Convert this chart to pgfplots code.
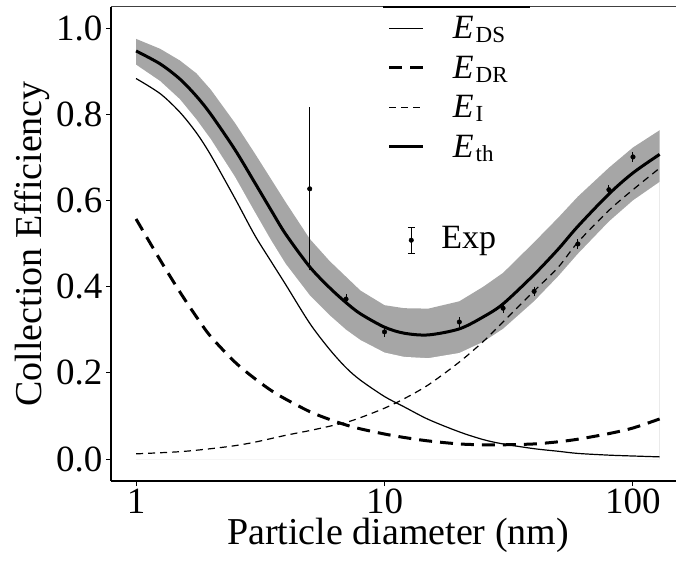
\documentclass[border=0pt]{standalone}
\usepackage{fontspec}
\setmainfont{Liberation Serif}
\usepackage{pgfplots}
\pgfplotsset{compat=1.18}
\usepackage{pgfplotstable}

\definecolor{bandgray}{RGB}{166,166,166}

% E_th with its uncertainty band
\pgfplotstableread{
d     th     up     lo
1.0   0.947  0.975  0.915
1.25  0.917  0.952  0.877
1.5   0.882  0.925  0.835
1.75  0.842  0.895  0.788
2.0   0.800  0.857  0.742
2.5   0.718  0.780  0.655
3.0   0.642  0.710  0.574
3.5   0.577  0.649  0.507
4.0   0.522  0.596  0.453
5.0   0.446  0.511  0.380
6.0   0.398  0.460  0.334
7.0   0.363  0.423  0.300
8.0   0.337  0.391  0.276
10.0  0.306  0.357  0.247
12.0  0.292  0.350  0.237
15.0  0.288  0.349  0.234
20.0  0.302  0.366  0.246
25.0  0.330  0.400  0.272
30.0  0.360  0.432  0.302
40.0  0.428  0.503  0.366
50.0  0.487  0.560  0.424
60.0  0.540  0.609  0.476
80.0  0.615  0.676  0.551
100.0 0.664  0.723  0.600
128.0 0.707  0.763  0.643
}\th

\pgfplotstableread{
d     v
1.0   0.883
1.25  0.848
1.5   0.805
1.75  0.757
2.0   0.705
2.5   0.605
3.0   0.520
3.5   0.458
4.0   0.405
5.0   0.315
6.0   0.255
7.0   0.212
8.0   0.183
10.0  0.145
12.0  0.121
15.0  0.092
20.0  0.063
25.0  0.045
30.0  0.035
40.0  0.024
50.0  0.018
60.0  0.013
80.0  0.009
100.0 0.007
128.0 0.005
}\eds

\pgfplotstableread{
d     v
1.0   0.557
1.25  0.462
1.5   0.388
1.75  0.330
2.0   0.284
2.5   0.225
3.0   0.187
3.5   0.159
4.0   0.139
5.0   0.110
6.0   0.092
7.0   0.079
8.0   0.070
10.0  0.058
12.0  0.050
15.0  0.042
20.0  0.035
25.0  0.033
30.0  0.033
40.0  0.035
50.0  0.040
60.0  0.046
80.0  0.059
100.0 0.072
128.0 0.093
}\edr

\pgfplotstableread{
d     v
1.0   0.012
1.5   0.017
2.0   0.024
2.5   0.031
3.0   0.039
4.0   0.055
5.0   0.066
6.0   0.076
7.0   0.085
8.0   0.096
10.0  0.118
12.0  0.140
15.0  0.172
20.0  0.225
25.0  0.273
30.0  0.318
40.0  0.390
50.0  0.445
60.0  0.503
80.0  0.577
100.0 0.625
128.0 0.675
}\ei

\pgfplotstableread{
d    v      e
5    0.627  0.181
7    0.371  0.003
10   0.295  0.003
20   0.318  0.003
30   0.350  0.003
40   0.389  0.003
60   0.499  0.003
80   0.625  0.003
100  0.701  0.003
}\expdata

\begin{document}
\begin{tikzpicture}
\begin{axis}[
  scale only axis, width=565pt, height=474pt,
  xmode=log, xmin=0.793, xmax=149,
  ymin=-0.051, ymax=1.049,
  axis x line*=bottom, axis y line*=left,
  axis line style={line width=1.8pt},
  tick align=outside, tick style={line width=1pt, black},
  major tick length=5pt,
  xtick={1,10,100}, xticklabels={1,10,100},
  xminorticks=false,
  ytick={0,0.2,0.4,0.6,0.8,1.0},
  yticklabel style={/pgf/number format/.cd, fixed, fixed zerofill, precision=1, assume math mode=true},
  ticklabel style={font=\fontsize{37}{44}\selectfont},
  xticklabel style={text depth=0pt, inner sep=3pt},
  label style={font=\fontsize{38}{44}\selectfont},
  xlabel style={at={(rel axis cs:0.508,0)}, anchor=base, yshift=-63pt,
    text height=22pt, inner sep=0pt},
  xlabel={Particle diameter (nm)},
  ylabel={Collection Efficiency},
  legend style={at={(rel axis cs:0.481,1)}, anchor=north west, draw=none, fill=none,
    inner xsep=5pt, inner ysep=1.5pt, row sep=0pt,
    nodes={inner sep=0pt, text height=30pt, text depth=9.5pt},
    font=\fontsize{34}{40}\selectfont},
  legend cell align=left,
  /tikz/every odd column/.append style={column sep=28pt},
  legend image code/.code={\draw[#1] (0pt,0pt) -- (34pt,0pt);},
]
\coordinate (O) at (rel axis cs:0,0);
\addplot[fill=bandgray, draw=none, forget plot] table[x=d, y=up] {\th}
  \closedcycle;
\addplot[fill=white, draw=none, forget plot] table[x=d, y=lo] {\th}
  \closedcycle;
\addplot[black, line width=1.2pt, smooth] table[x=d, y=v] {\eds};
\addlegendentry{\textit{E}\kern2pt\raisebox{-4pt}{\fontsize{23}{23}\selectfont DS}}
\addplot[black, line width=3pt, dash pattern=on 13pt off 8pt, smooth] table[x=d, y=v] {\edr};
\addlegendentry{\textit{E}\kern2pt\raisebox{-4pt}{\fontsize{23}{23}\selectfont DR}}
\addplot[black, line width=1.2pt, dash pattern=on 7pt off 5pt, smooth] table[x=d, y=v] {\ei};
\addlegendentry{\textit{E}\kern2pt\raisebox{-4pt}{\fontsize{23}{23}\selectfont I}}
\addplot[black, line width=3pt, smooth] table[x=d, y=th] {\th};
\addlegendentry{\textit{E}\kern2pt\raisebox{-4pt}{\fontsize{23}{23}\selectfont th}}
\draw[black!75, line width=1pt] (rel axis cs:0,1) -- (rel axis cs:1,1);
\draw[black, line width=1.8pt] (rel axis cs:0.481,1) -- (rel axis cs:0.742,1);
\end{axis}
\begin{axis}[
  scale only axis, width=565pt, height=474pt,
  xmode=log, xmin=0.793, xmax=149,
  ymin=-0.051, ymax=1.049,
  hide axis,
  legend style={at={(rel axis cs:0.524,0.508)}, anchor=west, draw=none, fill=none,
    inner sep=0pt,
    nodes={inner sep=0pt, text height=24pt, text depth=7pt},
    font=\fontsize{34}{40}\selectfont},
  /tikz/every odd column/.append style={column sep=26pt},
  legend image code/.code={
    \draw[line width=1pt] (0pt,-13pt) -- (0pt,13pt);
    \draw[line width=1pt] (-3.5pt,13pt) -- (3.5pt,13pt);
    \draw[line width=1pt] (-3.5pt,-13pt) -- (3.5pt,-13pt);
    \fill (0pt,0pt) circle (2.3pt);},
]
\addplot[black, only marks, mark=*, mark size=2.3pt,
  error bars/.cd, y dir=both, y explicit,
  error bar style={line width=1pt},
  error mark options={line width=1pt, mark size=3.5pt}]
  table[x=d, y=v, y error=e] {\expdata};
\addlegendentry{Exp}
\end{axis}
\pgfresetboundingbox
\path[use as bounding box] ([shift={(-111pt,-83pt)}]O) rectangle ([shift={(565pt,481pt)}]O);
\end{tikzpicture}
\end{document}
